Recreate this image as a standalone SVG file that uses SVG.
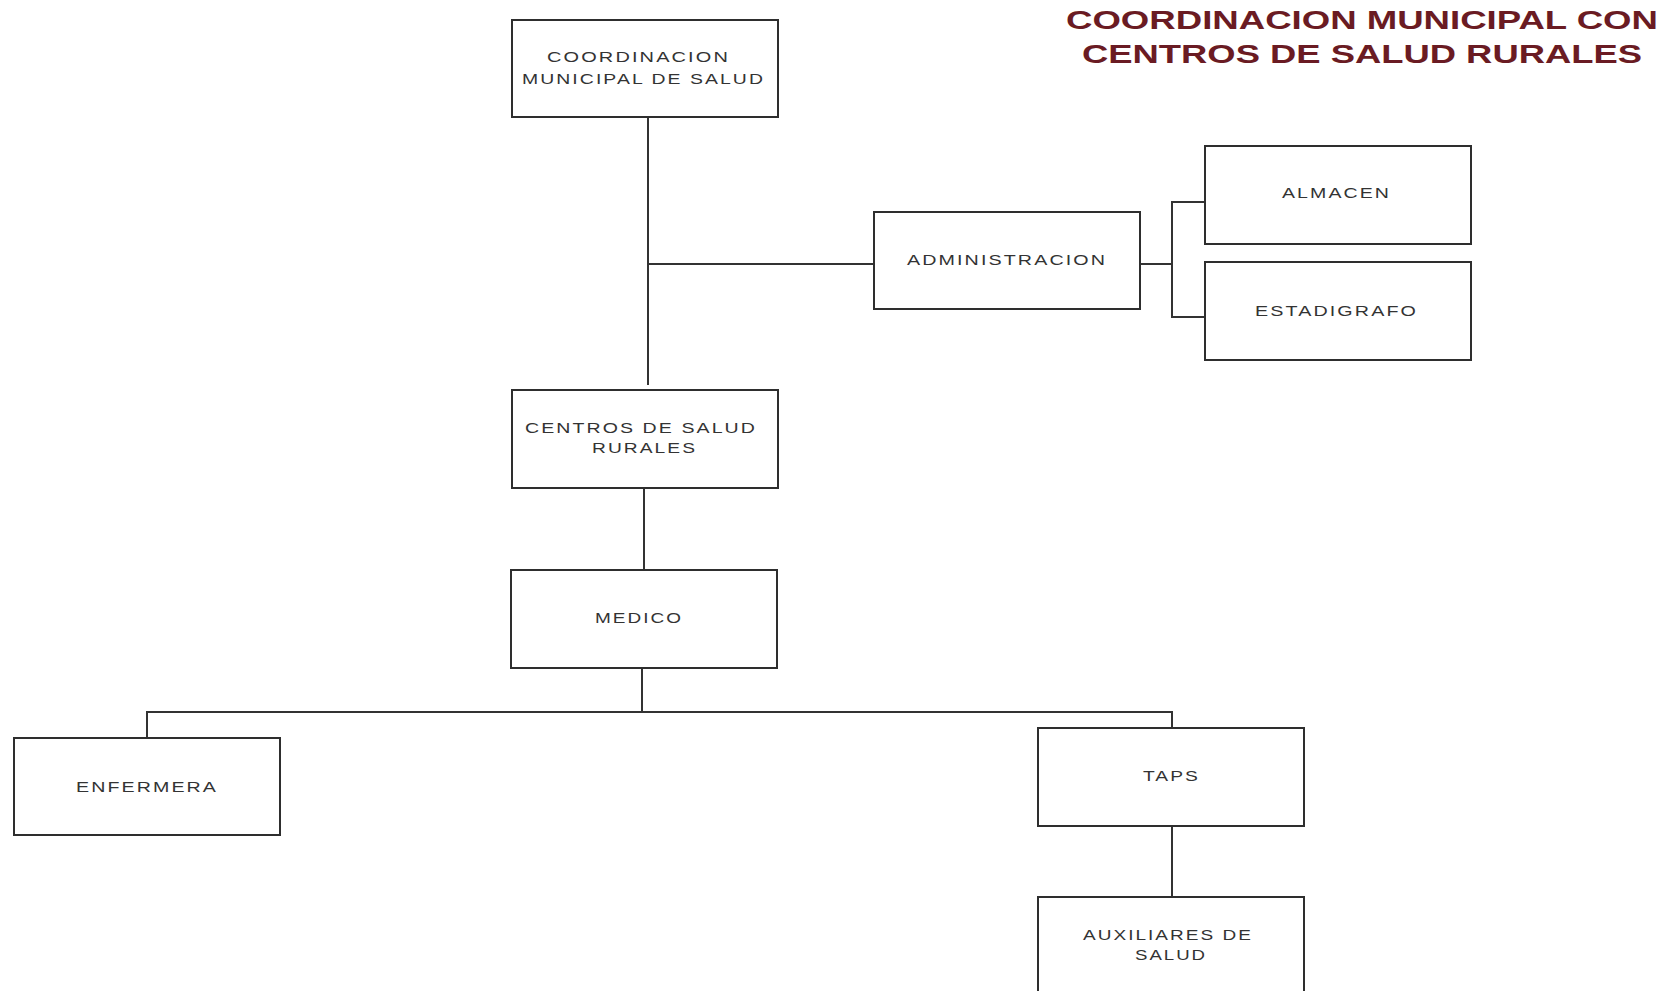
<svg xmlns="http://www.w3.org/2000/svg" width="1675" height="991" viewBox="0 0 1675 991">
<style>
.box{fill:#ffffff;stroke:#2e2e2e;stroke-width:2}
.lbl{font-family:"Liberation Sans",Arial,sans-serif;font-size:14px;fill:#333333;text-anchor:middle;letter-spacing:1.5px}
.title{font-family:"Liberation Sans",Arial,sans-serif;font-size:25px;font-weight:bold;fill:#6a1b23;text-anchor:middle}
.conn{fill:none;stroke:#333333;stroke-width:2}
</style>
<rect width="1675" height="991" fill="#ffffff"/>
<g id="title">
<text class="title" x="1362" y="29" textLength="592" lengthAdjust="spacingAndGlyphs">COORDINACION MUNICIPAL CON</text>
<text class="title" x="1362" y="63" textLength="560" lengthAdjust="spacingAndGlyphs">CENTROS DE SALUD RURALES</text>
</g>
<g id="connectors">
<polyline class="conn" points="648,118 648,385"/>
<polyline class="conn" points="648,264 874,264"/>
<polyline class="conn" points="1140,264 1172,264"/>
<polyline class="conn" points="1205,202 1172,202 1172,317 1205,317"/>
<polyline class="conn" points="644,488 644,570"/>
<polyline class="conn" points="642,668 642,712"/>
<polyline class="conn" points="147,738 147,712 1172,712 1172,728"/>
<polyline class="conn" points="1172,826 1172,897"/>
</g>
<g id="coordinacion">
<rect class="box" x="512" y="20" width="266" height="97"/>
<text class="lbl" x="638.5" y="62" textLength="183" lengthAdjust="spacingAndGlyphs">COORDINACION</text>
<text class="lbl" x="643.5" y="84" textLength="243" lengthAdjust="spacingAndGlyphs">MUNICIPAL DE SALUD</text>
</g>
<g id="administracion">
<rect class="box" x="874" y="212" width="266" height="97"/>
<text class="lbl" x="1007" y="265" textLength="200" lengthAdjust="spacingAndGlyphs">ADMINISTRACION</text>
</g>
<g id="almacen">
<rect class="box" x="1205" y="146" width="266" height="98"/>
<text class="lbl" x="1336.5" y="198" textLength="109" lengthAdjust="spacingAndGlyphs">ALMACEN</text>
</g>
<g id="estadigrafo">
<rect class="box" x="1205" y="262" width="266" height="98"/>
<text class="lbl" x="1336.5" y="316" textLength="163" lengthAdjust="spacingAndGlyphs">ESTADIGRAFO</text>
</g>
<g id="centros">
<rect class="box" x="512" y="390" width="266" height="98"/>
<text class="lbl" x="641" y="433" textLength="232" lengthAdjust="spacingAndGlyphs">CENTROS DE SALUD</text>
<text class="lbl" x="644.5" y="453" textLength="105" lengthAdjust="spacingAndGlyphs">RURALES</text>
</g>
<g id="medico">
<rect class="box" x="511" y="570" width="266" height="98"/>
<text class="lbl" x="639" y="623" textLength="88" lengthAdjust="spacingAndGlyphs">MEDICO</text>
</g>
<g id="enfermera">
<rect class="box" x="14" y="738" width="266" height="97"/>
<text class="lbl" x="147" y="792" textLength="142" lengthAdjust="spacingAndGlyphs">ENFERMERA</text>
</g>
<g id="taps">
<rect class="box" x="1038" y="728" width="266" height="98"/>
<text class="lbl" x="1171.5" y="781" textLength="57" lengthAdjust="spacingAndGlyphs">TAPS</text>
</g>
<g id="auxiliares">
<rect class="box" x="1038" y="897" width="266" height="110"/>
<text class="lbl" x="1168" y="940" textLength="170" lengthAdjust="spacingAndGlyphs">AUXILIARES DE</text>
<text class="lbl" x="1171" y="960" textLength="72" lengthAdjust="spacingAndGlyphs">SALUD</text>
</g>
</svg>
